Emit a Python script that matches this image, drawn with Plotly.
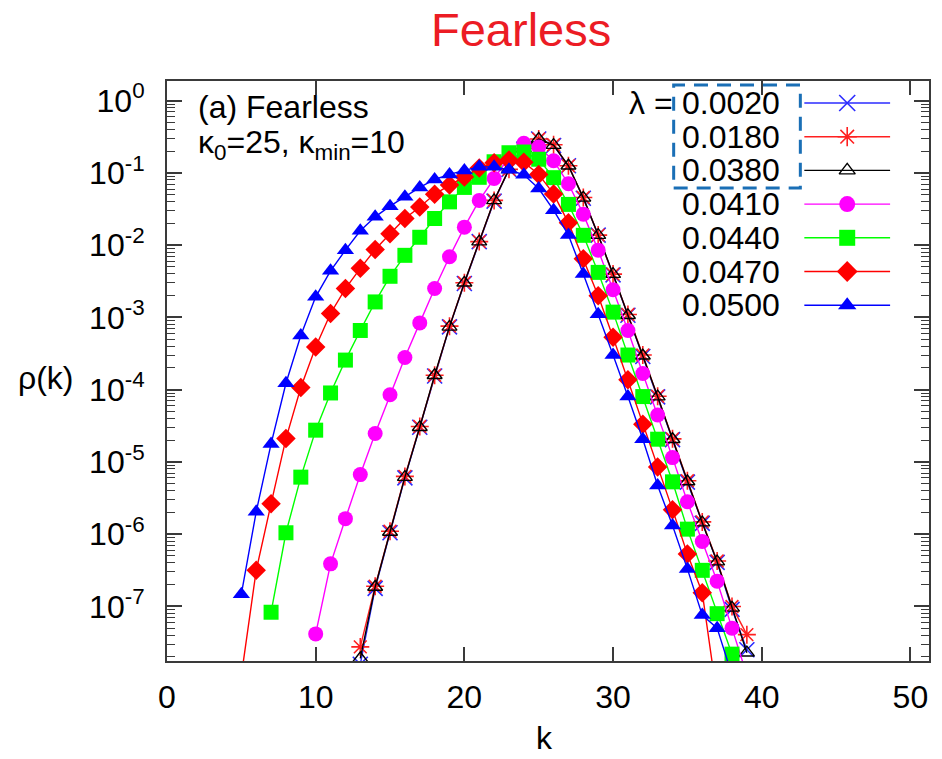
import plotly.graph_objects as go

# ---------------- data (values are log10 of rho(k)) ----------------
k_0020 = list(range(13, 40))
log_rho_0020 = [-7.80, -6.75, -5.98, -5.22, -4.52, -3.81, -3.13, -2.53, -1.95, -1.39, -0.95, -0.67,
                -0.53, -0.62, -0.90, -1.35, -1.86, -2.41, -2.97, -3.54, -4.10, -4.69, -5.28, -5.85,
                -6.39, -7.04, -7.60]
k_0180 = list(range(13, 40))
log_rho_0180 = [-7.56, -6.72, -5.96, -5.20, -4.51, -3.80, -3.12, -2.52, -1.95, -1.38, -0.95, -0.66,
                -0.53, -0.61, -0.90, -1.34, -1.86, -2.40, -2.96, -3.52, -4.09, -4.68, -5.26, -5.83,
                -6.37, -7.00, -7.39]
k_0380 = list(range(13, 40))
log_rho_0380 = [-7.72, -6.73, -5.97, -5.21, -4.52, -3.80, -3.13, -2.52, -1.95, -1.38, -0.95, -0.66,
                -0.53, -0.615, -0.90, -1.345, -1.86, -2.40, -2.97, -3.53, -4.095, -4.685, -5.27, -5.84,
                -6.38, -7.02, -7.64]
k_0410 = list(range(10, 40))
log_rho_0410 = [-7.38, -6.41, -5.785, -5.175, -4.607, -4.07, -3.555, -3.075, -2.60, -2.16, -1.75,
                -1.38, -1.075, -0.78, -0.59, -0.64, -0.83, -1.15, -1.57, -2.068, -2.617, -3.18,
                -3.776, -4.35, -4.94, -5.55, -6.10, -6.65, -7.30, -7.95]
k_0440 = list(range(7, 40))
log_rho_0440 = [-7.08, -5.98, -5.21, -4.56, -4.045, -3.59, -3.18, -2.785, -2.43, -2.14, -1.89, -1.63,
                -1.40, -1.20, -1.06, -0.845, -0.72, -0.71, -0.81, -1.065, -1.435, -1.863, -2.376,
                -2.926, -3.52, -4.095, -4.685, -5.275, -5.93, -6.50, -7.10, -7.66, -8.30]
k_0470 = list(range(5, 38))
log_rho_0470 = [-7.96, -6.50, -5.577, -4.677, -3.97, -3.41, -2.945, -2.60, -2.32, -2.06, -1.84, -1.63,
                -1.47, -1.295, -1.168, -1.055, -0.93, -0.86, -0.82, -0.85, -1.02, -1.29, -1.69,
                -2.186, -2.70, -3.273, -3.863, -4.478, -5.07, -5.66, -6.275, -6.81, -8.26]
k_0500 = list(range(5, 39))
log_rho_0500 = [-6.83, -5.69, -4.75, -3.91, -3.25, -2.715, -2.355, -2.068, -1.80, -1.607, -1.459,
                -1.33, -1.20, -1.09, -1.02, -0.965, -0.915, -0.915, -0.955, -1.025, -1.215, -1.515,
                -1.86, -2.40, -2.955, -3.52, -4.095, -4.685, -5.326, -5.88, -6.48, -7.12, -7.30,
                -7.95]

lambda_labels = ["0.0020", "0.0180", "0.0380", "0.0410", "0.0440", "0.0470", "0.0500"]
x_tick_vals = [0, 10, 20, 30, 40, 50]
y_tick_exponents = [-7, -6, -5, -4, -3, -2, -1, 0]

# ---------------- styles ----------------
FONT = "Liberation Sans, Arial, Helvetica, sans-serif"
AX = "#3a3a3a"
TXT = 32
styles = [
    dict(color="#2b2bff", symbol="x-thin-open", size=15, mline=1.6),
    dict(color="#ff2020", symbol="asterisk-open", size=15, mline=1.6),
    dict(color="#000000", symbol="triangle-up-open", size=13, mline=1.4),
    dict(color="#ff00ff", symbol="circle", size=15, mline=0),
    dict(color="#00ff00", symbol="square", size=15, mline=0),
    dict(color="#ff0000", symbol="diamond", size=15, mline=0),
    dict(color="#0000ff", symbol="triangle-up", size=15, mline=0),
]
series = [
    (k_0020, log_rho_0020), (k_0180, log_rho_0180), (k_0380, log_rho_0380),
    (k_0410, log_rho_0410), (k_0440, log_rho_0440), (k_0470, log_rho_0470),
    (k_0500, log_rho_0500),
]

W, H = 942, 759
ML, MR, MT, MB = 167, 11, 81, 98
PL, PR, PT, PB = ML, W - MR, MT, H - MB


def pxx(x):
    return (x - PL) / (PR - PL)


def pxy(y):
    return (PB - y) / (PB - PT)


fig = go.Figure()

for (ks, logs), st, lab in zip(series, styles, lambda_labels):
    rho = [10 ** v for v in logs]
    fig.add_trace(go.Scatter(
        x=ks, y=rho, mode="lines+markers", name=lab, showlegend=False,
        line=dict(color=st["color"], width=1.4),
        marker=dict(symbol=st["symbol"], size=st["size"], color=st["color"],
                    line=dict(color=st["color"], width=st["mline"])),
    ))

# ---------------- legend (drawn manually: text left, sample right) ----------------
LEG_ROW0 = 103
LEG_DY = 33.7
LEG_TEXT_X = 681
LEG_LINE_X0, LEG_LINE_X1, LEG_MARK_X = 806, 892, 849
annotations = []
for i, (lab, st) in enumerate(zip(lambda_labels, styles)):
    ry = LEG_ROW0 + i * LEG_DY
    fig.add_trace(go.Scatter(
        x=[LEG_LINE_X0, LEG_LINE_X1], y=[ry, ry], mode="lines", xaxis="x2", yaxis="y2",
        line=dict(color=st["color"], width=1.4), showlegend=False, hoverinfo="skip"))
    fig.add_trace(go.Scatter(
        x=[LEG_MARK_X], y=[ry], mode="markers", xaxis="x2", yaxis="y2", cliponaxis=False,
        marker=dict(symbol=st["symbol"], size=st["size"] + 1, color=st["color"],
                    line=dict(color=st["color"], width=st["mline"])),
        showlegend=False, hoverinfo="skip"))
    annotations.append(dict(x=pxx(LEG_TEXT_X), y=pxy(ry), xref="paper", yref="paper",
                            text=lab, showarrow=False, xanchor="left", yanchor="middle",
                            font=dict(family=FONT, size=TXT, color="black")))

annotations.append(dict(x=pxx(676), y=pxy(LEG_ROW0), xref="paper", yref="paper", text="λ =",
                        showarrow=False, xanchor="right", yanchor="middle",
                        font=dict(family=FONT, size=TXT, color="black")))
annotations.append(dict(x=pxx(196), y=pxy(107), xref="paper", yref="paper", text="(a) Fearless",
                        showarrow=False, xanchor="left", yanchor="middle",
                        font=dict(family=FONT, size=TXT, color="black")))
annotations.append(dict(x=pxx(196), y=pxy(144), xref="paper", yref="paper",
                        text="κ<sub>0</sub>=25, κ<sub>min</sub>=10",
                        showarrow=False, xanchor="left", yanchor="middle",
                        font=dict(family=FONT, size=TXT, color="black")))
annotations.append(dict(x=pxx(522), y=pxy(30), xref="paper", yref="paper", text="Fearless",
                        showarrow=False, xanchor="center", yanchor="middle",
                        font=dict(family=FONT, size=47, color="#ec1c24")))
annotations.append(dict(x=pxx(545), y=pxy(738), xref="paper", yref="paper", text="k",
                        showarrow=False, xanchor="center", yanchor="middle",
                        font=dict(family=FONT, size=TXT, color="black")))
annotations.append(dict(x=pxx(46), y=pxy(378), xref="paper", yref="paper", text="ρ(k)",
                        showarrow=False, xanchor="center", yanchor="middle",
                        font=dict(family=FONT, size=TXT, color="black")))

shapes = [dict(type="rect", xref="paper", yref="paper",
               x0=pxx(675), x1=pxx(802), y0=pxy(188), y1=pxy(85),
               line=dict(color="#1a6fb6", width=3, dash="14px,9px"))]

minor_vals = [m * 10 ** e for e in range(-8, 1) for m in range(2, 10)]

fig.update_layout(
    width=W, height=H,
    margin=dict(l=ML, r=MR, t=MT, b=MB, pad=0),
    paper_bgcolor="white", plot_bgcolor="white",
    showlegend=False,
    annotations=annotations, shapes=shapes,
    font=dict(family=FONT, color="black"),
    xaxis=dict(range=[0, 51.25], tickvals=x_tick_vals, ticks="inside", ticklen=14, tickwidth=1.6,
               tickcolor=AX, showline=True, linecolor=AX, linewidth=2, mirror="ticks",
               showgrid=False, zeroline=False, tickfont=dict(family=FONT, size=32, color="black"),
               ticklabelstandoff=7),
    yaxis=dict(type="log", range=[-7.755, 0.273],
               tickvals=[10 ** e for e in y_tick_exponents],
               ticktext=[f"10<sup>{e}</sup>" for e in y_tick_exponents],
               ticks="inside", ticklen=15, tickwidth=1.6, tickcolor=AX,
               minor=dict(tickvals=minor_vals, ticks="inside", ticklen=8, tickwidth=1.2,
                          tickcolor=AX, showgrid=False),
               showline=True, linecolor=AX, linewidth=2, mirror="ticks",
               showgrid=False, zeroline=False, tickfont=dict(family=FONT, size=32, color="black"),
               ticklabelstandoff=14),
    xaxis2=dict(overlaying="x", range=[PL, PR], visible=False, fixedrange=True),
    yaxis2=dict(overlaying="y", range=[PB, PT], visible=False, fixedrange=True),
)

fig.write_html("out.html")
